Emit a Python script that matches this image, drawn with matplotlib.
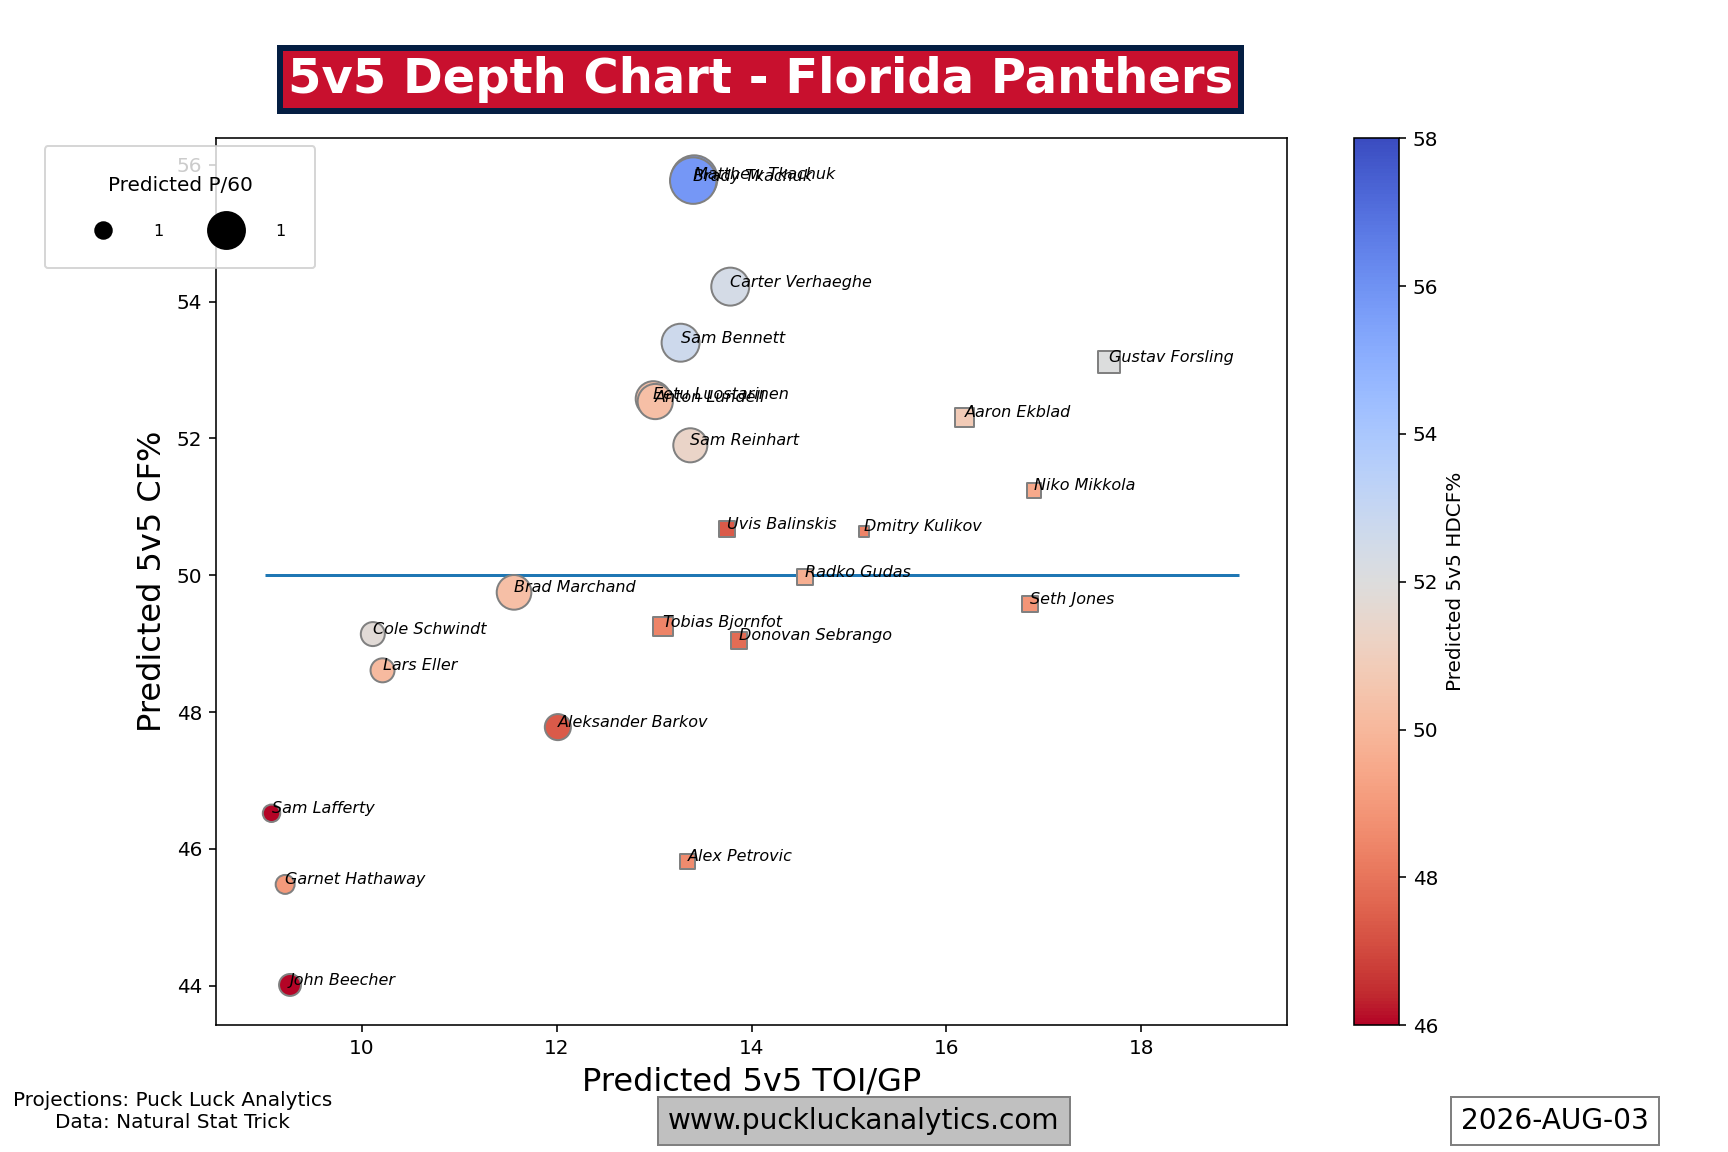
import matplotlib
matplotlib.use("Agg")
import matplotlib.pyplot as plt
from matplotlib.lines import Line2D

names = ["Matthew Tkachuk", "Brady Tkachuk", "Carter Verhaeghe", "Sam Bennett",
         "Eetu Luostarinen", "Anton Lundell", "Sam Reinhart", "Brad Marchand",
         "Cole Schwindt", "Lars Eller", "Aleksander Barkov", "Sam Lafferty",
         "Garnet Hathaway", "John Beecher",
         "Gustav Forsling", "Aaron Ekblad", "Niko Mikkola", "Uvis Balinskis",
         "Dmitry Kulikov", "Radko Gudas", "Seth Jones", "Tobias Bjornfot",
         "Donovan Sebrango", "Alex Petrovic"]
position = ["F"] * 14 + ["D"] * 10
toi = [13.41, 13.40, 13.78, 13.27, 12.99, 13.01, 13.37, 11.56,
       10.11, 10.21, 12.01, 9.07, 9.21, 9.26,
       17.67, 16.19, 16.90, 13.75, 15.15, 14.55, 16.86, 13.09, 13.87, 13.34]
cf = [55.80, 55.77, 54.22, 53.40, 52.58, 52.54, 51.90, 49.75,
      49.14, 48.61, 47.78, 46.52, 45.48, 44.01,
      53.12, 52.31, 51.24, 50.68, 50.64, 49.98, 49.58, 49.25, 49.05, 45.82]
hdcf = [55.8, 55.8, 52.4, 52.7, 50.3, 50.3, 51.3, 50.3,
        51.8, 50.1, 47.4, 46.0, 49.0, 46.0,
        52.0, 50.8, 49.5, 47.4, 48.4, 49.7, 48.9, 48.4, 47.8, 48.6]
p60 = [2.70, 2.70, 1.80, 1.80, 1.55, 1.55, 1.45, 1.50,
       0.72, 0.72, 0.85, 0.38, 0.45, 0.60,
       0.60, 0.45, 0.25, 0.33, 0.13, 0.33, 0.31, 0.48, 0.35, 0.28]
legend_p60 = [0.34, 1.70]
legend_labels = ["1", "1"]
size_scale = 200

plt.rcParams["font.family"] = ["DejaVu Sans"]
fig = plt.figure(figsize=(12, 8), dpi=144)
ax = fig.add_subplot(111)

fwd = [i for i, p in enumerate(position) if p == "F"]
dfn = [i for i, p in enumerate(position) if p == "D"]

sc = ax.scatter([toi[i] for i in fwd], [cf[i] for i in fwd],
                s=[p60[i] * size_scale for i in fwd],
                c=[hdcf[i] for i in fwd], cmap="coolwarm_r", vmin=46, vmax=58,
                marker="o", edgecolors="grey", linewidths=1.0, zorder=2)
ax.scatter([toi[i] for i in dfn], [cf[i] for i in dfn],
           s=[p60[i] * size_scale for i in dfn],
           c=[hdcf[i] for i in dfn], cmap="coolwarm_r", vmin=46, vmax=58,
           marker="s", edgecolors="grey", linewidths=1.0, zorder=2)

for n, x, y in zip(names, toi, cf):
    ax.text(x, y, n, fontsize=8, style="italic", zorder=3)

ax.hlines(50, 9, 19, color="#1f77b4", linewidth=1.5, zorder=1)

cbar = fig.colorbar(sc, ax=ax)
cbar.set_label("Predicted 5v5 HDCF%", fontsize=10)

ax.set_xlabel("Predicted 5v5 TOI/GP", fontsize=16)
ax.set_ylabel("Predicted 5v5 CF%", fontsize=16)

handles = [Line2D([], [], linestyle="none", marker="o", color="black",
                  markersize=(p * size_scale) ** 0.5) for p in legend_p60]
leg = ax.legend(handles, legend_labels, title="Predicted P/60", ncol=2,
                loc="upper left", bbox_to_anchor=(0.026, 0.873),
                bbox_transform=fig.transFigure, fontsize=8, title_fontsize=10,
                borderpad=1.85, borderaxespad=0, handlelength=3.6,
                handletextpad=1.3, columnspacing=2.1, labelspacing=1.8)

fig.text(0.44, 0.931, "5v5 Depth Chart - Florida Panthers", fontsize=24,
         fontweight="bold", color="white", ha="center", va="center",
         bbox=dict(facecolor="#C8102E", edgecolor="#041E42", linewidth=3, pad=4))

fig.text(0.1, 0.035, "Projections: Puck Luck Analytics\nData: Natural Stat Trick",
         fontsize=10, ha="center", va="center")
fig.text(0.5, 0.027, "www.puckluckanalytics.com", fontsize=14, ha="center",
         va="center", bbox=dict(facecolor="silver", edgecolor="grey", pad=5))
fig.text(0.9, 0.027, "2026-AUG-03", fontsize=14, ha="center", va="center",
         bbox=dict(facecolor="white", edgecolor="grey", pad=5))

fig.savefig("out.png", dpi=144)
